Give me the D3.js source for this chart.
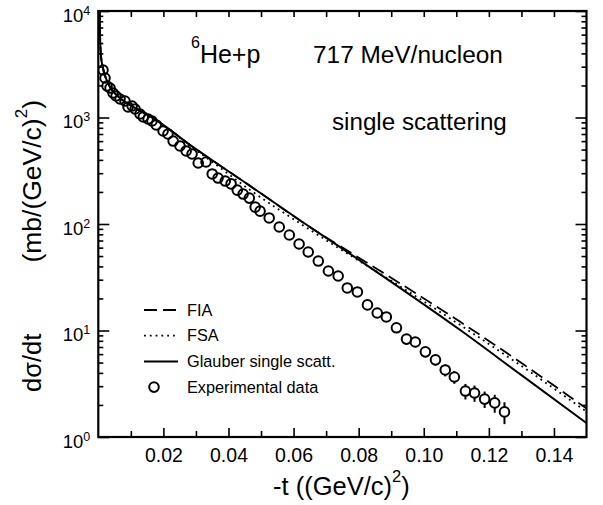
<!DOCTYPE html>
<html>
<head>
<meta charset="utf-8">
<style>
  body { margin: 0; background: #fff; }
  svg { font-family: "Liberation Sans", Arial, Helvetica, sans-serif; }
</style>
</head>
<body>
<svg id="chart" width="603" height="505"></svg>
<script src="https://cdn.jsdelivr.net/npm/d3@7"></script>
<script>
// experimental points: -t, dsigma/dt, error
const expT = [0.00145,0.00206,0.00268,0.0036,0.00452,0.00545,0.00668,0.0082,0.00914,0.0104,
  0.0113,0.0128,0.0138,0.0153,0.0165,0.0178,0.0199,0.0214,0.0230,0.0251,
  0.0270,0.0288,0.0307,0.0331,0.0350,0.0368,0.0390,0.0408,0.0427,0.0445,
  0.0464,0.0482,0.0497,0.0525,0.0556,0.0587,0.0617,0.0645,0.0676,0.0707,
  0.0737,0.0765,0.0796,0.0827,0.0857,0.0885,0.0916,0.0947,0.0974,0.1005,
  0.1036,0.1066,0.1094,0.1128,0.1156,0.1187,0.1218,0.1248];
const expV = [2793,2349,1976,1892,1698,1592,1492,1428,1256,1282,
  1202,1079,1011,968,927,851,747,700,601,540,
  485,454,374,382,295,270,253,238,208,191,
  175,144,132,114,93.7,78.8,64.9,54.6,44.9,36.2,
  32.5,25.1,23.0,17.4,14.6,13.4,10.6,8.3,7.8,6.3,
  5.3,4.26,3.66,2.70,2.59,2.27,2.09,1.72];
const expErr = [0,0,0,0,0,0,0,0,0,0,
  0,0,0,0,0,0,0,0,0,0,
  0,0,0,0,0,0,0,0,0,0,
  0,10,9,8,6,5,4,3.5,3,2.5,
  2.2,1.8,1.7,1.3,1.1,1.0,0.8,0.9,0.85,0.7,
  0.6,0.55,0.5,0.45,0.45,0.4,0.4,0.4];

// calculations
const curveT = [0.0003,0.0004,0.0006,0.0009,0.0014,0.0021,0.0036,0.0067,0.0113,0.0159,
  0.0221,0.0282,0.0313,0.0467,0.0651,0.0744,0.0891,0.1113,0.1297,0.15];
const glauber = [16000,10000,5000,3600,2950,2450,1930,1520,1230,1030,
  763,552,474,227,93.3,60.4,29.9,10.05,3.87,1.35];
const fia = [16000,10000,5000,3600,2950,2450,1930,1520,1230,1030,
  763,552,474,227,93.3,61.7,32.5,12.0,5.03,1.85];
const fsa = [16000,10000,5000,3600,2950,2450,1930,1520,1230,1030,
  763,537,462,208,87.9,57.9,30.5,11.2,4.72,1.73];

const xTicks = [0.02,0.04,0.06,0.08,0.10,0.12,0.14];
const xMinor = [0.01,0.03,0.05,0.07,0.09,0.11,0.13];
const yDecades = [1,10,100,1000,10000];

const legendItems = ["FIA","FSA","Glauber single scatt.","Experimental data"];

const svg = d3.select("#chart");
const L = 98.3, R = 586.5, T = 11, B = 437;

const x = d3.scaleLinear().domain([0,0.15]).range([L,R]);
const y = d3.scaleLog().domain([1,1e4]).range([B,T]);

svg.append("clipPath").attr("id","clip")
  .append("rect").attr("x",L).attr("y",T).attr("width",R-L).attr("height",B-T);

// minor y ticks (2..9 per decade)
const yMinor = [];
for (let d = 1; d < 1e4; d *= 10) for (let k = 2; k <= 9; k++) yMinor.push(d*k);

function styleAxis(g) {
  g.select(".domain").remove();
  g.selectAll(".tick line").attr("stroke","#000").attr("stroke-width",1.6);
}

// bottom axis
svg.append("g").attr("transform",`translate(0,${B})`)
  .call(d3.axisBottom(x).tickValues(xMinor).tickSize(-6).tickFormat(""))
  .call(styleAxis);
const xb = svg.append("g").attr("transform",`translate(0,${B})`)
  .call(d3.axisBottom(x).tickValues(xTicks).tickSize(-9).tickFormat(d3.format(".2f")))
  .call(styleAxis);
xb.selectAll(".tick text").attr("y",25).attr("dy",0)
  .attr("font-size",19.5).attr("fill","#000");

// top axis
svg.append("g").attr("transform",`translate(0,${T})`)
  .call(d3.axisTop(x).tickValues(xTicks.concat(xMinor)).tickSize(-6).tickFormat(""))
  .call(styleAxis);

// left axis
svg.append("g").attr("transform",`translate(${L},0)`)
  .call(d3.axisLeft(y).tickValues(yMinor).tickSize(-5).tickFormat(""))
  .call(styleAxis);
const yl = svg.append("g").attr("transform",`translate(${L},0)`)
  .call(d3.axisLeft(y).tickValues(yDecades).tickSize(-11).tickFormat(""))
  .call(styleAxis);
yl.selectAll(".tick text").each(function(d) {
  const t = d3.select(this);
  t.text(null).attr("x",-8).attr("dy",0).attr("y",10).attr("fill","#000")
    .attr("font-size",18.5).attr("text-anchor","end");
  t.append("tspan").text("10");
  t.append("tspan").attr("dy",-7).attr("font-size",12.5).text(Math.round(Math.log10(d)));
});

// right axis
svg.append("g").attr("transform",`translate(${R},0)`)
  .call(d3.axisRight(y).tickValues(yMinor).tickSize(-5).tickFormat(""))
  .call(styleAxis);
svg.append("g").attr("transform",`translate(${R},0)`)
  .call(d3.axisRight(y).tickValues(yDecades).tickSize(-11).tickFormat(""))
  .call(styleAxis);

// frame
svg.append("rect").attr("x",L).attr("y",T).attr("width",R-L).attr("height",B-T)
  .attr("fill","none").attr("stroke","#000").attr("stroke-width",2.2);

// curves
const plot = svg.append("g").attr("clip-path","url(#clip)");
const line = d3.line().x(d => x(d[0])).y(d => y(d[1])).curve(d3.curveMonotoneX);
const series = [
  {v: fia, dash: "13,6", w: 1.8},
  {v: fsa, dash: "1.8,4", w: 1.8},
  {v: glauber, dash: null, w: 2}
];
series.forEach(s => {
  plot.append("path").datum(curveT.map((t,i) => [t, s.v[i]]))
    .attr("d", line).attr("fill","none").attr("stroke","#000")
    .attr("stroke-width", s.w).attr("stroke-dasharray", s.dash);
});

// experimental data
const r = 4.8;
const pts = expT.map((t,i) => ({t, v: expV[i], e: expErr[i]}));
const pg = plot.append("g");
pts.forEach(p => {
  const cx = x(p.t), cy = y(p.v);
  if (p.e > 0) {
    const y1 = y(p.v + p.e), y2 = y(p.v - p.e);
    if (y1 < cy - r) pg.append("line").attr("x1",cx).attr("x2",cx).attr("y1",y1).attr("y2",cy-r)
      .attr("stroke","#000").attr("stroke-width",2);
    if (y2 > cy + r) pg.append("line").attr("x1",cx).attr("x2",cx).attr("y1",cy+r).attr("y2",y2)
      .attr("stroke","#000").attr("stroke-width",2);
  }
  pg.append("circle").attr("cx",cx).attr("cy",cy).attr("r",r)
    .attr("fill","none").attr("stroke","#000").attr("stroke-width",2);
});

// legend
const lg = svg.append("g");
legendItems.forEach((name,i) => {
  const ly = 310 + i*25.7;
  if (i < 3) {
    lg.append("line").attr("x1",144).attr("x2",178).attr("y1",ly).attr("y2",ly)
      .attr("stroke","#000").attr("stroke-width",series[i].w)
      .attr("stroke-dasharray", series[i].dash);
  } else {
    lg.append("circle").attr("cx",154).attr("cy",ly).attr("r",r)
      .attr("fill","none").attr("stroke","#000").attr("stroke-width",2);
  }
  lg.append("text").attr("x",187).attr("y",ly+5.5).attr("font-size",16.3).text(name);
});

// annotations
const a1 = svg.append("text").attr("x",191).attr("y",63).attr("font-size",25);
a1.append("tspan").attr("dy",-15).attr("font-size",16).text("6");
a1.append("tspan").attr("dy",15).text("He+p");
svg.append("text").attr("x",313).attr("y",63).attr("font-size",24.4).text("717 MeV/nucleon");
svg.append("text").attr("x",332).attr("y",130).attr("font-size",24.2).text("single scattering");

// axis titles
const xt = svg.append("text").attr("x",273).attr("y",495).attr("font-size",25.5);
xt.append("tspan").text("-t  ((GeV/c)");
xt.append("tspan").attr("dy",-13).attr("font-size",16.5).text("2");
xt.append("tspan").attr("dy",13).text(")");

svg.append("text").attr("transform","translate(41,392) rotate(-90)")
  .attr("font-size",25.5).text("d\u03c3/dt");
const yt = svg.append("text").attr("transform","translate(41,100) rotate(-90)")
  .attr("font-size",26.5).attr("text-anchor","end");
yt.append("tspan").text("(mb/(GeV/c)");
yt.append("tspan").attr("dy",-14).attr("font-size",17).text("2");
yt.append("tspan").attr("dy",14).text(")");
</script>
</body>
</html>
